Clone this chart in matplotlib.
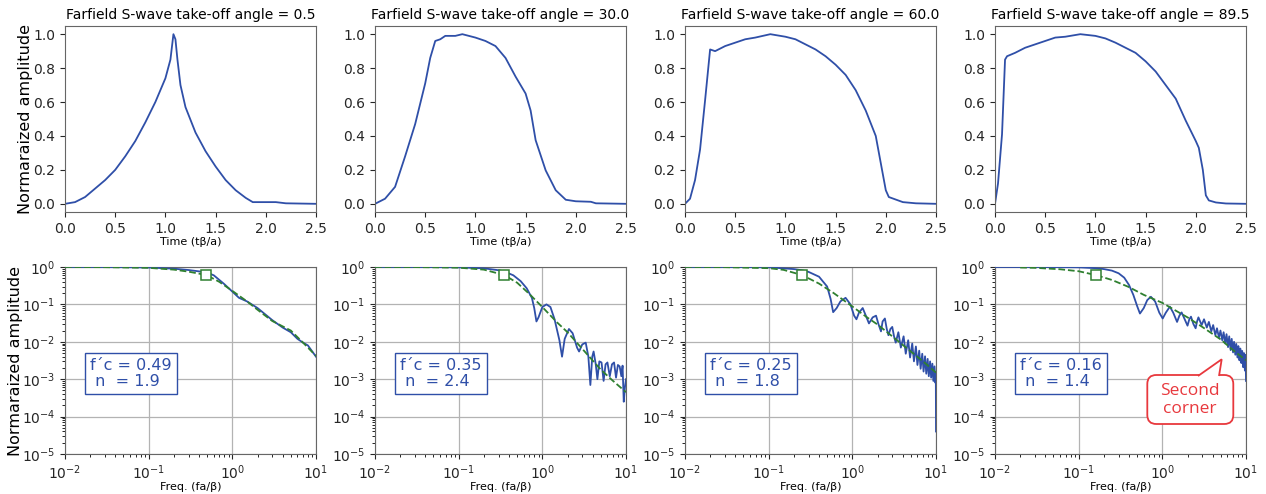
import matplotlib
matplotlib.use("Agg")
import matplotlib.pyplot as plt
from matplotlib.patches import FancyBboxPatch, Polygon

BLUE = "#2f4fa8"
GREEN = "#2f8030"
RED = "#e8383d"

angles = ["0.5", "30.0", "60.0", "89.5"]

# --- time traces (t*beta/a, normalized amplitude) ---
t_05 = [0, 0.1, 0.2, 0.3, 0.4, 0.5, 0.6, 0.7, 0.8, 0.9, 1.0, 1.05, 1.08, 1.1, 1.12, 1.15,
        1.2, 1.3, 1.4, 1.5, 1.6, 1.7, 1.8, 1.87, 2.0, 2.1, 2.2, 2.5]
a_05 = [0, 0.01, 0.04, 0.09, 0.14, 0.2, 0.28, 0.37, 0.48, 0.6, 0.74, 0.85, 1.0, 0.97, 0.85, 0.7,
        0.57, 0.42, 0.31, 0.22, 0.14, 0.08, 0.035, 0.01, 0.01, 0.01, 0.003, 0.0]

t_30 = [0, 0.1, 0.2, 0.3, 0.4, 0.5, 0.55, 0.6, 0.65, 0.7, 0.8, 0.87, 1.0, 1.1, 1.2, 1.3, 1.4,
        1.5, 1.55, 1.6, 1.7, 1.8, 1.9, 2.0, 2.15, 2.2, 2.5]
a_30 = [0, 0.03, 0.1, 0.28, 0.47, 0.71, 0.86, 0.96, 0.97, 0.99, 0.99, 1.0, 0.98, 0.96, 0.93, 0.86, 0.75,
        0.65, 0.55, 0.375, 0.197, 0.08, 0.024, 0.015, 0.012, 0.003, 0.0]

t_60 = [0, 0.05, 0.1, 0.15, 0.2, 0.25, 0.3, 0.4, 0.5, 0.6, 0.7, 0.85, 1.0, 1.1, 1.2, 1.3, 1.4,
        1.5, 1.6, 1.7, 1.8, 1.9, 1.95, 2.0, 2.03, 2.1, 2.17, 2.3, 2.5]
a_60 = [0, 0.03, 0.14, 0.32, 0.61, 0.91, 0.9, 0.93, 0.95, 0.97, 0.98, 1.0, 0.985, 0.97, 0.94, 0.91, 0.87,
        0.82, 0.76, 0.67, 0.55, 0.40, 0.24, 0.08, 0.04, 0.025, 0.01, 0.003, 0.0]

t_895 = [0, 0.03, 0.07, 0.1, 0.12, 0.2, 0.3, 0.4, 0.5, 0.6, 0.7, 0.85, 1.0, 1.1, 1.2, 1.3, 1.4,
         1.5, 1.6, 1.7, 1.8, 1.9, 2.0, 2.03, 2.07, 2.1, 2.13, 2.2, 2.3, 2.5]
a_895 = [0, 0.12, 0.41, 0.85, 0.87, 0.89, 0.92, 0.94, 0.96, 0.98, 0.985, 1.0, 0.99, 0.975, 0.95, 0.92, 0.89,
         0.84, 0.78, 0.70, 0.62, 0.49, 0.37, 0.33, 0.2, 0.05, 0.02, 0.008, 0.002, 0.0]

# --- spectra (f*a/beta, normalized amplitude) ---
f_05 = [0.01, 0.05, 0.1, 0.2, 0.3, 0.49, 0.6, 0.7, 0.8, 1.0, 1.2, 1.5, 2, 3, 4, 5, 6, 7, 8, 10]
s_05 = [1.0, 0.99, 0.97, 0.9, 0.83, 0.72, 0.6, 0.45, 0.35, 0.22, 0.15, 0.12, 0.08, 0.038, 0.024,
        0.018, 0.012, 0.0095, 0.008, 0.004]

f_30 = [0.01, 0.05, 0.1, 0.2, 0.3, 0.35, 0.45, 0.55, 0.65, 0.75, 0.8, 0.85, 0.9, 1.0, 1.12, 1.25,
        1.4, 1.6, 1.72, 1.85, 2.08, 2.3, 2.6, 2.75, 3.0, 3.3, 3.55, 3.75, 3.95, 4.1, 4.35, 4.55,
        4.8, 5.1, 5.4, 5.7, 6.0, 6.4, 6.8, 7.2, 7.6, 8.0, 8.4, 8.8, 9.1, 9.4, 9.7, 10]
s_30 = [1.0, 0.995, 0.98, 0.92, 0.82, 0.76, 0.6, 0.42, 0.27, 0.15, 0.08, 0.035, 0.045, 0.085, 0.10, 0.085,
        0.04, 0.011, 0.004, 0.012, 0.022, 0.017, 0.007, 0.0055, 0.0085, 0.0095, 0.004, 0.0007, 0.004, 0.0055,
        0.0025, 0.001, 0.003, 0.0028, 0.0009, 0.0025, 0.0028, 0.0012, 0.0025, 0.0028, 0.0011, 0.0024,
        0.0022, 0.0012, 0.0023, 0.00025, 0.0006, 0.001]

f_60 = [0.01, 0.05, 0.1, 0.2, 0.25, 0.3, 0.4, 0.5, 0.55, 0.59, 0.65, 0.72, 0.83, 0.95, 1.05, 1.12,
        1.2, 1.33, 1.45, 1.58, 1.75, 1.92, 2.05, 2.2, 2.3, 2.45, 2.58, 2.7, 2.85, 3.0, 3.15, 3.3,
        3.55, 3.8, 4.1, 4.35, 4.65, 4.9, 5.2, 5.45, 5.75, 6.0, 6.3, 6.55, 6.85, 7.1, 7.4, 7.65,
        7.95, 8.2, 8.5, 8.75, 9.05, 9.3, 9.6, 9.85, 9.95, 10]
s_60 = [1.0, 0.995, 0.98, 0.88, 0.82, 0.74, 0.55, 0.3, 0.14, 0.062, 0.08, 0.12, 0.15, 0.1, 0.05, 0.04,
        0.06, 0.08, 0.05, 0.031, 0.045, 0.05, 0.03, 0.019, 0.035, 0.042, 0.022, 0.015, 0.022, 0.025, 0.014, 0.0095,
        0.018, 0.007, 0.014, 0.0048, 0.011, 0.0038, 0.009, 0.003, 0.0075, 0.0024, 0.0058, 0.0019, 0.0048, 0.0016,
        0.0041, 0.0014, 0.0035, 0.0012, 0.003, 0.0011, 0.0026, 0.0009, 0.0022, 0.0008, 0.0015, 0.00004]

f_895 = [0.01, 0.05, 0.1, 0.16, 0.2, 0.25, 0.3, 0.35, 0.4, 0.45, 0.5, 0.54, 0.6, 0.66, 0.73, 0.82,
         0.92, 1.01, 1.1, 1.23, 1.35, 1.5, 1.6, 1.7, 1.85, 2.0, 2.1, 2.2, 2.35, 2.5, 2.6, 2.7, 2.95,
         3.15, 3.4, 3.6, 3.85, 4.05, 4.3, 4.5, 4.75, 4.95, 5.2, 5.4, 5.65, 5.85, 6.1, 6.3, 6.55, 6.75,
         7.0, 7.2, 7.45, 7.65, 7.9, 8.1, 8.35, 8.55, 8.8, 9.0, 9.25, 9.45, 9.7, 9.9, 10]
s_895 = [1.0, 0.995, 0.98, 0.93, 0.88, 0.8, 0.68, 0.52, 0.33, 0.18, 0.09, 0.057, 0.08, 0.13, 0.16, 0.12,
         0.06, 0.042, 0.06, 0.087, 0.06, 0.034, 0.05, 0.061, 0.04, 0.027, 0.04, 0.047, 0.03, 0.023, 0.035, 0.045, 0.028,
         0.04, 0.024, 0.034, 0.019, 0.028, 0.015, 0.023, 0.013, 0.02, 0.011, 0.018, 0.009, 0.016, 0.0072, 0.014, 0.006, 0.012,
         0.0052, 0.010, 0.0045, 0.0088, 0.0038, 0.0077, 0.0032, 0.0066, 0.0027, 0.0057, 0.0021, 0.005, 0.0017, 0.0045, 0.0009]

# --- fitted model curves (dashed green) ---
fm_05 = [0.01, 0.03, 0.1, 0.2, 0.3, 0.49, 0.7, 1.0, 1.5, 2, 3, 5, 7, 10]
m_05 = [1.0, 0.99, 0.95, 0.85, 0.75, 0.61, 0.40, 0.23, 0.12, 0.072, 0.036, 0.02, 0.0095, 0.0042]
fm_30 = [0.01, 0.03, 0.1, 0.2, 0.35, 0.5, 0.7, 1.0, 1.5, 2, 3, 5, 7, 10]
m_30 = [1.0, 0.995, 0.96, 0.85, 0.61, 0.38, 0.19, 0.085, 0.033, 0.018, 0.0065, 0.0018, 0.0009, 0.00045]
fm_60 = [0.01, 0.03, 0.1, 0.15, 0.25, 0.4, 0.6, 1.0, 1.5, 2, 3, 5, 7, 10]
m_60 = [1.0, 0.99, 0.93, 0.84, 0.61, 0.36, 0.2, 0.088, 0.045, 0.029, 0.014, 0.0055, 0.003, 0.0015]
fm_895 = [0.02, 0.03, 0.06, 0.1, 0.16, 0.25, 0.4, 0.6, 1.0, 1.5, 2, 3, 5, 7, 10]
m_895 = [0.97, 0.95, 0.87, 0.77, 0.61, 0.45, 0.29, 0.18, 0.11, 0.065, 0.045, 0.025, 0.0115, 0.006, 0.0032]

fc_vals = [0.49, 0.35, 0.25, 0.16]
fc_amp = [0.61, 0.61, 0.61, 0.61]
n_vals = [1.9, 2.4, 1.8, 1.4]

times = [(t_05, a_05), (t_30, a_30), (t_60, a_60), (t_895, a_895)]
spectra = [(f_05, s_05), (f_30, s_30), (f_60, s_60), (f_895, s_895)]
models = [(fm_05, m_05), (fm_30, m_30), (fm_60, m_60), (fm_895, m_895)]

W, H = 1266, 494
fig = plt.figure(figsize=(W / 100, H / 100), dpi=100)
lefts = [65, 375, 685, 995]
axw = 251

for i in range(4):
    # top row: time trace
    ax = fig.add_axes([lefts[i] / W, (H - 212.3) / H, axw / W, 186.6 / H])
    ax.plot(times[i][0], times[i][1], color=BLUE, lw=1.3)
    ax.set_xlim(0, 2.5)
    ax.set_ylim(-0.05, 1.05)
    ax.set_xticks([0, 0.5, 1.0, 1.5, 2.0, 2.5])
    ax.set_yticks([0, 0.2, 0.4, 0.6, 0.8, 1.0])
    ax.tick_params(labelsize=10, colors="0.15")
    ax.set_xlabel("Time (tβ/a)", fontsize=8, labelpad=1)
    ax.set_title(f"Farfield S-wave take-off angle = {angles[i]}", fontsize=10, pad=5)
    if i == 0:
        ax.set_ylabel("Normaraized amplitude", fontsize=11.5)
        ax.yaxis.set_label_coords(-0.128, 0.5)
    for sp in ax.spines.values():
        sp.set_color("0.4")

    # bottom row: spectrum
    bx = fig.add_axes([lefts[i] / W, 40 / H, axw / W, 187 / H])
    bx.plot(spectra[i][0], spectra[i][1], color=BLUE, lw=1.3, zorder=3)
    bx.plot(models[i][0], models[i][1], color=GREEN, lw=1.3, ls="--", zorder=4)
    bx.plot([fc_vals[i]], [fc_amp[i]], marker="s", ms=6.5, mfc="white", mec=GREEN, mew=1.1,
            ls="none", zorder=5)
    bx.set_xscale("log")
    bx.set_yscale("log")
    bx.set_xlim(1e-2, 10)
    bx.set_ylim(1e-5, 1)
    bx.grid(True, which="major", color="0.7", lw=0.9)
    bx.tick_params(labelsize=10, colors="0.15")
    bx.set_xlabel("Freq. (fa/β)", fontsize=8, labelpad=0)
    if i == 0:
        bx.set_ylabel("Normaraized amplitude", fontsize=11.5)
        bx.yaxis.set_label_coords(-0.168, 0.5)
    for sp in bx.spines.values():
        sp.set_color("0.4")
    bx.text(0.1, 0.43, f"f\u00b4c = {fc_vals[i]:.2f}\n n  = {n_vals[i]}", transform=bx.transAxes,
            fontsize=11.5, color=BLUE, ha="left", va="center", linespacing=1.05,
            bbox=dict(boxstyle="square,pad=0.32", fc="white", ec=BLUE, lw=1.0), zorder=6)

# callout "Second corner" on the last spectrum (figure inches)
y_in = lambda py: (H - py) / 100
box = FancyBboxPatch((11.473, y_in(424)), 0.86, 0.49,
                     boxstyle="round,pad=0,rounding_size=0.09",
                     transform=fig.dpi_scale_trans, fc="white", ec=RED, lw=1.3, zorder=10)
fig.patches.append(box)
tail = Polygon([(11.98, y_in(376)), (12.217, y_in(359.3)), (12.19, y_in(376))], closed=False,
               transform=fig.dpi_scale_trans, fc="white", ec=RED, lw=1.3, zorder=11)
fig.patches.append(tail)
fig.text(1190 / W, (H - 400) / H, "Second\ncorner", color=RED, fontsize=12.5,
         family=["Open Sans", "DejaVu Sans"], ha="center", va="center", linespacing=1.1, zorder=12)

fig.savefig("out.png", dpi=100)
